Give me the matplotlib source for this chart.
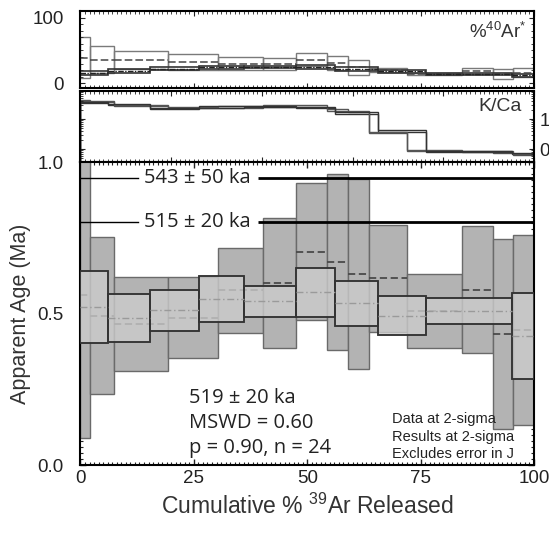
import matplotlib
matplotlib.use("Agg")
import matplotlib.pyplot as plt
from matplotlib.ticker import MultipleLocator, FixedLocator, NullFormatter
import numpy as np

plt.rcParams['font.family'] = ['Liberation Sans', 'DejaVu Sans']
plt.rcParams['mathtext.fontset'] = 'custom'
plt.rcParams['mathtext.rm'] = 'Liberation Sans'
plt.rcParams['mathtext.it'] = 'Liberation Sans:italic'
plt.rcParams['mathtext.bf'] = 'Liberation Sans:bold'

# step boundaries (cumulative % 39Ar), two interleaved samples
edges_a = [0, 2.2, 7.5, 19.4, 30.3, 40.2, 47.6, 54.3, 59.1, 63.7, 71.9, 84.1, 90.9, 95.3, 100]
edges_b = [0, 6.1, 15.3, 26.1, 36.0, 47.6, 56.1, 65.7, 76.3, 95.1, 100]

# apparent ages (Ma) and 2-sigma errors
age_a = [0.56, 0.492, 0.465, 0.486, 0.576, 0.600, 0.704, 0.670, 0.630, 0.616, 0.507, 0.579, 0.432, 0.445]
err_a = [0.47, 0.259, 0.155, 0.134, 0.141, 0.215, 0.226, 0.289, 0.314, 0.176, 0.122, 0.210, 0.313, 0.313]
age_b = [0.522, 0.484, 0.510, 0.548, 0.540, 0.570, 0.534, 0.493, 0.508, 0.426]
err_b = [0.118, 0.079, 0.068, 0.077, 0.050, 0.080, 0.074, 0.064, 0.043, 0.143]

# radiogenic 40Ar (%)
rad_a = [39, 36, 35, 32, 30, 29, 36, 31, 24, 20, 14, 18.7, 14, 16]
rad_a_err = [31, 20, 14, 12, 10, 9, 10, 11, 11, 3, 2, 4, 8, 7]
rad_b = [16, 19, 22, 24, 25, 25, 22, 18, 14, 12]
rad_b_err = [3, 3, 2, 2, 2, 3, 3, 2, 1.5, 2]

# K/Ca
kca_a = [4.2, 3.8, 2.9, 2.4, 2.5, 2.7, 2.7, 2.0, 1.8, 0.36, 0.09, 0.085, 0.08, 0.065]
kca_b = [3.6, 3.0, 2.3, 2.5, 2.6, 2.4, 1.6, 0.40, 0.085, 0.07]

plateau_labels = ["543 ± 50 ka", "515 ± 20 ka"]
plateau_y = [0.946, 0.803]
result_lines = ["519 ± 20 ka", "MSWD = 0.60", "p = 0.90, n = 24"]
note_lines = ["Data at 2-sigma", "Results at 2-sigma", "Excludes error in J"]


def widths(edges):
    e = np.array(edges)
    return e[:-1], np.diff(e)


left_a, w_a = widths(edges_a)
left_b, w_b = widths(edges_b)

fig = plt.figure(figsize=(5.49, 5.34), dpi=100)
ax_ar = fig.add_axes([0.1466, 0.8343, 0.826, 0.1451])
ax_kc = fig.add_axes([0.1466, 0.6966, 0.826, 0.133])
ax = fig.add_axes([0.1466, 0.1292, 0.826, 0.5674])

# --- main age spectrum ---
age_a = np.array(age_a); err_a = np.array(err_a)
age_b = np.array(age_b); err_b = np.array(err_b)
ax.bar(left_a, 2 * err_a, bottom=age_a - err_a, width=w_a, align='edge',
       color='#b3b3b3', edgecolor='#6a6a6a', linewidth=1.0, zorder=2)
ax.hlines(age_a, left_a, left_a + w_a, colors='#4a4a4a', linestyles=(0, (4, 2)), linewidth=1.3, zorder=3)
ax.bar(left_b, 2 * err_b, bottom=age_b - err_b, width=w_b, align='edge',
       color='#cbcbcb', alpha=0.8, edgecolor='#333333', linewidth=1.2, zorder=4)
ax.bar(left_b, 2 * err_b, bottom=age_b - err_b, width=w_b, align='edge',
       color='none', edgecolor='#333333', linewidth=1.2, zorder=5)
ax.hlines(age_b, left_b, left_b + w_b, colors='#9a9a9a', linestyles=(0, (5, 2, 1, 2)), linewidth=1.0, zorder=5)

for lab, yv in zip(plateau_labels, plateau_y):
    ax.plot([0, 12.6], [yv, yv], color='black', lw=1.0, zorder=6)
    ax.plot([39.2, 100], [yv, yv], color='black', lw=2.0, zorder=6, solid_capstyle='butt')
    ax.text(25.8, yv, lab, ha='center', va='center', fontsize=14.5, family='Open Sans', color='#222222', zorder=7)

for i, s in enumerate(result_lines):
    ax.text(24.0, [0.206, 0.121, 0.039][i], s, ha='left', va='baseline', fontsize=14.5,
            family='Open Sans', color='#222222', zorder=7)
for i, s in enumerate(note_lines):
    ax.text(68.8, [0.138, 0.080, 0.024][i], s, ha='left', va='baseline', fontsize=10.5,
            color='#222222', zorder=7)

ax.set_xlim(0, 100)
ax.set_ylim(0, 1.0)
ax.xaxis.set_major_locator(MultipleLocator(25))
ax.xaxis.set_minor_locator(MultipleLocator(1))
ax.yaxis.set_major_locator(FixedLocator([0.0, 0.5, 1.0]))
ax.yaxis.set_minor_locator(MultipleLocator(0.02))
ax.yaxis.set_major_formatter(plt.FuncFormatter(lambda v, p: f"{v:.1f}"))
ax.tick_params(which='both', direction='in', top=True, right=True, labelsize=13.5, colors='#222222')
ax.tick_params(which='major', length=4, width=1)
ax.tick_params(which='minor', length=2.5, width=0.8)
ax.tick_params(axis='y', which='major', pad=12)
ax.set_xlabel("Cumulative % $^{39}$Ar Released", fontsize=16.5, color='#333333', labelpad=5)
ax.set_ylabel("Apparent Age (Ma)", fontsize=15.5, color='#333333', labelpad=5)

# --- %40Ar* panel ---
rad_a = np.array(rad_a); rad_a_err = np.array(rad_a_err)
rad_b = np.array(rad_b); rad_b_err = np.array(rad_b_err)
ax_ar.bar(left_a, 2 * rad_a_err, bottom=rad_a - rad_a_err, width=w_a, align='edge',
          color='none', edgecolor='#7a7a7a', linewidth=1.0)
ax_ar.hlines(rad_a, left_a, left_a + w_a, colors='#444444', linestyles=(0, (5, 2)), linewidth=1.1)
ax_ar.bar(left_b, 2 * rad_b_err, bottom=rad_b - rad_b_err, width=w_b, align='edge',
          color='none', edgecolor='#333333', linewidth=1.2)
ax_ar.hlines(rad_b, left_b, left_b + w_b, colors='#222222', linestyles=(0, (4, 1, 1, 1)), linewidth=1.0)
ax_ar.set_xlim(0, 100)
ax_ar.set_ylim(-8, 110)
ax_ar.xaxis.set_major_locator(MultipleLocator(25))
ax_ar.xaxis.set_minor_locator(MultipleLocator(1))
ax_ar.yaxis.set_major_locator(FixedLocator([0, 100]))
ax_ar.yaxis.set_minor_locator(MultipleLocator(10))
ax_ar.tick_params(which='both', direction='in', top=True, right=True, labelbottom=False,
                  labelsize=13.5, colors='#222222')
ax_ar.tick_params(axis='y', which='major', pad=12)
ax_ar.tick_params(which='minor', length=2.5)
ax_ar.text(0.985, 0.86, "%$^{40}$Ar$^{*}$", transform=ax_ar.transAxes, ha='right', va='top',
           fontsize=13.5, color='#333333')

# --- K/Ca panel (step lines, thin error envelope) ---
kca_a = np.array(kca_a); kca_b = np.array(kca_b)
for f in (0.95, 1.05):
    ax_kc.stairs(kca_a * f, edges_a, color='#555555', linewidth=1.0)
    ax_kc.stairs(kca_b * f, edges_b, color='#333333', linewidth=1.0)
ax_kc.set_yscale('log')
ax_kc.set_xlim(0, 100)
ax_kc.set_ylim(0.037, 8.6)
ax_kc.xaxis.set_minor_locator(MultipleLocator(1))
ax_kc.yaxis.set_major_locator(FixedLocator([0.1, 1]))
ax_kc.yaxis.set_major_formatter(plt.FuncFormatter(lambda v, p: "1" if v >= 1 else "0.1"))
ax_kc.yaxis.set_minor_formatter(NullFormatter())
ax_kc.tick_params(which='both', direction='in', top=True, right=True, left=True,
                  labelbottom=False, labelleft=False, labelright=True, labelsize=13.5,
                  colors='#222222', pad=4)
ax_kc.tick_params(which='minor', length=2.5)
ax_kc.text(0.972, 0.9, "K/Ca", transform=ax_kc.transAxes, ha='right', va='top',
           fontsize=14, color='#333333')

for a in (ax, ax_ar, ax_kc):
    for sp in a.spines.values():
        sp.set_linewidth(1.5)

fig.savefig("out.png", dpi=100)
